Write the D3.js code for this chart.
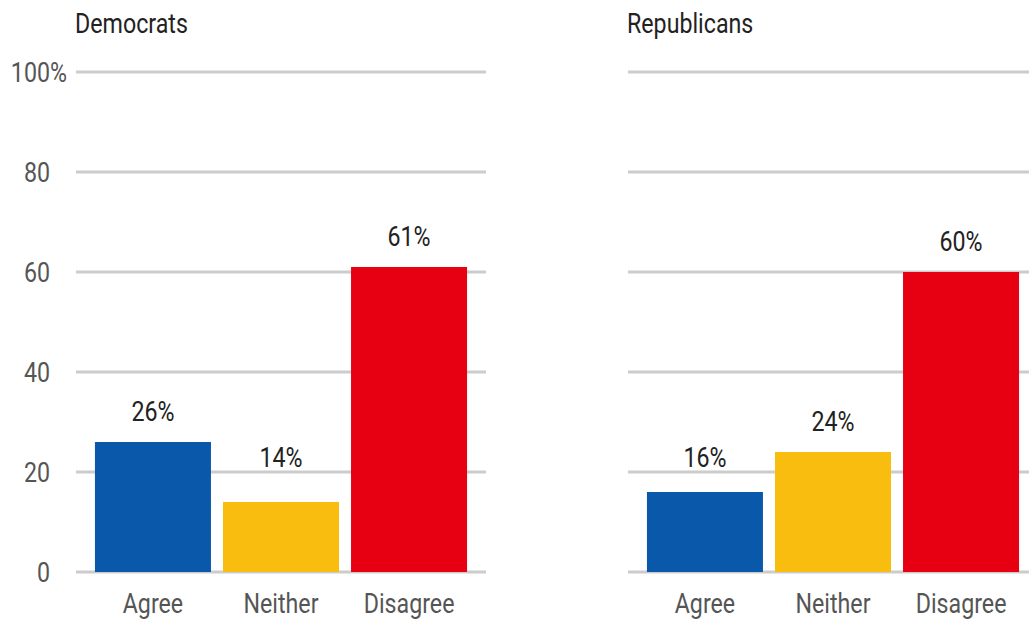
<!DOCTYPE html>
<html>
<head>
<meta charset="utf-8">
<script src="https://cdn.jsdelivr.net/npm/d3@7"></script>
<style>
  html, body { margin: 0; padding: 0; background: #ffffff; }
  svg { display: block; }
  text { font-family: Roboto, "Noto Sans", sans-serif; font-size: 27px; }
</style>
</head>
<body>
<svg id="chart" width="1029" height="619"></svg>
<script>
// Survey answers by party, share of respondents (%)
const categories = ["Agree", "Neither", "Disagree"];
const democrats = [26, 14, 61];
const republicans = [16, 24, 60];
const panelTitles = ["Democrats", "Republicans"];
const yTicks = [0, 20, 40, 60, 80, 100];
const barColors = ["#0a58aa", "#f9bd10", "#e60012"];

const svg = d3.select("#chart");
const squeeze = 0.86; // narrow the letterforms to a condensed look

const y = d3.scaleLinear().domain([0, 100]).range([572, 72]);

const panels = [
  { title: panelTitles[0], values: democrats, range: [76, 486], yLabels: true },
  { title: panelTitles[1], values: republicans, range: [628, 1038], yLabels: false }
];

function condensedText(g, x, yPos, str, anchor, fill) {
  return g.append("text")
    .attr("transform", `translate(${x},${yPos}) scale(${squeeze},1)`)
    .attr("text-anchor", anchor)
    .attr("fill", fill)
    .text(str);
}

panels.forEach(p => {
  const g = svg.append("g");
  const x = d3.scaleBand()
    .domain(categories)
    .range(p.range)
    .paddingInner(0.094)
    .paddingOuter(0.148);

  // horizontal gridlines
  g.selectAll("line.grid")
    .data(yTicks)
    .join("line")
    .attr("class", "grid")
    .attr("x1", p.range[0])
    .attr("x2", p.range[1])
    .attr("y1", d => y(d))
    .attr("y2", d => y(d))
    .attr("stroke", "#cccccc")
    .attr("stroke-width", 3);

  // title
  condensedText(g, p.range[0] - 1, 33, p.title, "start", "#222222");

  // y-axis labels (left panel only); the top one carries the % sign
  if (p.yLabels) {
    yTicks.forEach(t => {
      condensedText(g, 50, y(t) + 9.5, String(t), "end", "#555555");
      if (t === 100) {
        condensedText(g, 50, y(t) + 9.5, "%", "start", "#555555");
      }
    });
  }

  // bars
  g.selectAll("rect.bar")
    .data(p.values)
    .join("rect")
    .attr("class", "bar")
    .attr("x", (d, i) => x(categories[i]))
    .attr("width", x.bandwidth())
    .attr("y", d => y(d))
    .attr("height", d => y(0) - y(d))
    .attr("fill", (d, i) => barColors[i]);

  // value labels, lifted above a gridline when they would sit on it
  p.values.forEach((v, i) => {
    let base = y(v) - 21.5;
    yTicks.forEach(t => {
      const gy = y(t);
      if (base > gy - 5 && base - 19 < gy + 2) base = gy - 5;
    });
    condensedText(g, x(categories[i]) + x.bandwidth() / 2, base, v + "%", "middle", "#222222");
  });

  // category labels
  categories.forEach(c => {
    condensedText(g, x(c) + x.bandwidth() / 2, 613, c, "middle", "#555555");
  });
});
</script>
</body>
</html>
